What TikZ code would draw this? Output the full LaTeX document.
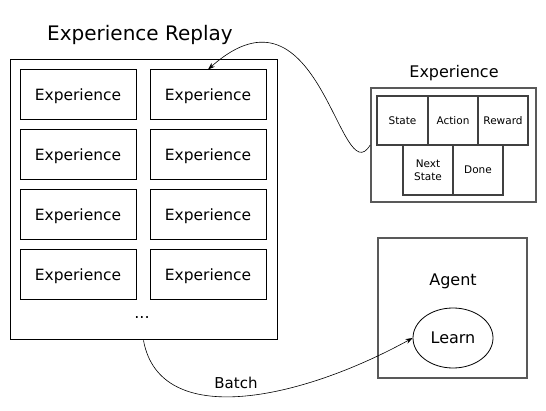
\documentclass[tikz,border=0pt]{standalone}
\usepackage{fontspec}
\setmainfont{DejaVu Sans}
\usetikzlibrary{arrows.meta,shapes.geometric}
\begin{document}
\begin{tikzpicture}[x=1pt,y=-1pt,
  box/.style={draw,line width=1pt},
  graybox/.style={draw=black!65,line width=1.6pt},
  expbox/.style={draw,line width=1pt,minimum width=116pt,minimum height=50pt,inner sep=0pt,text depth=0pt,font=\fontsize{15.5}{18}\selectfont},
  cell/.style={draw=black!75,line width=1.2pt,inner sep=0pt,align=center,font=\fontsize{10.5}{12.5}\selectfont},
  lbl/.style={font=\fontsize{16}{19}\selectfont,text depth=0pt},
  conn/.style={-{Stealth[length=7pt,width=5pt]},line width=0.6pt}]
\useasboundingbox (0,0) rectangle (546,411);
% Experience Replay
\node[font=\fontsize{20}{24}\selectfont,text depth=0pt] (title) at (140,33) {Experience Replay};
\node[box,minimum width=267pt,minimum height=280pt,inner sep=0pt] (replay) at (143.5,200) {};
\foreach \r/\y in {1/95,2/155,3/215,4/275}{
  \node[expbox] (e\r a) at (78,\y) {Experience};
  \node[expbox] (e\r b) at (208,\y) {Experience};
}
\node[lbl] (dots) at (142,318) {...};
% Experience tuple
\node[lbl] (exptitle) at (454,71) {Experience};
\node[graybox,minimum width=165pt,minimum height=114pt,inner sep=0pt] (exp) at (453.5,145) {};
\node[cell,minimum width=51pt,minimum height=49pt,text depth=0pt] (state) at (402.5,120.5) {State};
\node[cell,minimum width=50pt,minimum height=49pt,text depth=0pt] (action) at (453,120.5) {Action};
\node[cell,minimum width=50pt,minimum height=49pt,text depth=0pt] (reward) at (503,120.5) {Reward};
\node[cell,minimum width=50pt,minimum height=50pt] (next) at (428,170) {Next\\State};
\node[cell,minimum width=50pt,minimum height=50pt,text depth=0pt] (done) at (478,170) {Done};
% Agent
\node[graybox,minimum width=149pt,minimum height=140pt,inner sep=0pt] (agent) at (452.5,308) {};
\node[lbl] (agentlbl) at (453,280) {Agent};
\node[draw,line width=0.8pt,ellipse,minimum width=80pt,minimum height=60pt,inner sep=0pt,lbl] (learn) at (453,338) {Learn};
% connectors
\draw[conn] (exp.west) .. controls (340,195) and (320,-30) .. (e1b.north);
\draw[conn] (replay.south) .. controls (160,430) and (300,400) .. (learn.west);
\node[font=\fontsize{15}{18}\selectfont,text depth=0pt] (batch) at (236,383) {Batch};
\end{tikzpicture}
\end{document}
